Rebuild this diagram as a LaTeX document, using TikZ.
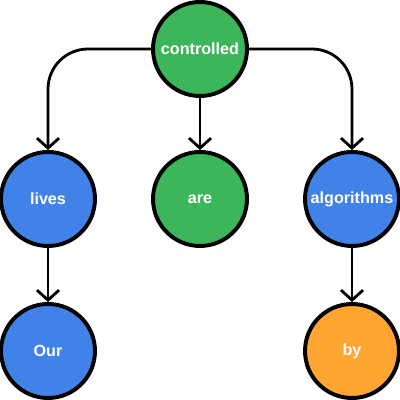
\documentclass[tikz,border=0pt]{standalone}
\usepackage{fontspec}
\setmainfont{Liberation Sans}
\usepackage{tikz}
\usetikzlibrary{arrows.meta}
\definecolor{nodegreen}{RGB}{61,181,90}
\definecolor{nodeblue}{RGB}{64,130,232}
\definecolor{nodeorange}{RGB}{255,165,50}
\tikzstyle{word}=[circle, minimum size=2.35cm, inner sep=0pt, line width=2.8pt, draw=black, text=white, font=\fontsize{11.5}{13}\selectfont\bfseries]
\tikzstyle{link}=[line width=2pt, draw=black, -{Straight Barb[length=0.25cm,width=0.55cm]}]

\begin{document}
\begin{tikzpicture}
	\useasboundingbox (0,0) rectangle (10,10);

	\node[word, fill=nodegreen](controlled) at (5,8.775){controlled};
	\node[word, fill=nodeblue](lives) at (1.2,5.025){lives};
	\node[word, fill=nodegreen](are) at (5,5.025){are};
	\node[word, fill=nodeblue](algorithms) at (8.8,5.025){algorithms};
	\node[word, fill=nodeblue](our) at (1.2,1.225){Our};
	\node[word, fill=nodeorange](by) at (8.8,1.225){by};

	\draw[link, rounded corners=1cm] (controlled.west) -| (lives.north);
	\draw[link] (controlled.south) -- (are.north);
	\draw[link, rounded corners=1cm] (controlled.east) -| (algorithms.north);
	\draw[link] (lives.south) -- (our.north);
	\draw[link] (algorithms.south) -- (by.north);

\end{tikzpicture}
\end{document}
